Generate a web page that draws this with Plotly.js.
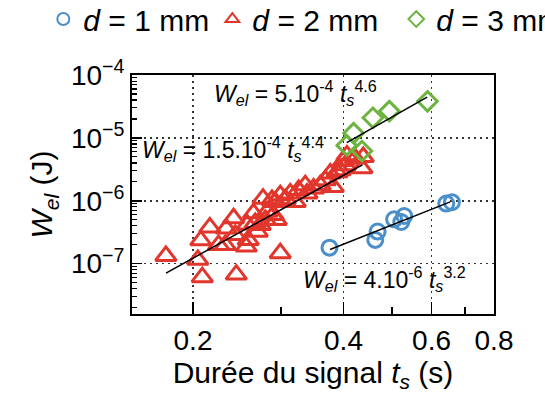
<!DOCTYPE html>
<html>
<head>
<meta charset="utf-8">
<script src="https://cdn.plot.ly/plotly-3.0.1.min.js"></script>
<style>html,body{margin:0;padding:0;background:#fff;}#chart{width:545px;height:397px;}</style>
</head>
<body>
<div id="chart"></div>
<script>
// d = 1 mm (blue circles)
const t1 = [0.375, 0.463, 0.468, 0.505, 0.529, 0.522, 0.642, 0.659];
const w1 = [1.80e-7, 2.39e-7, 3.24e-7, 5.08e-7, 5.73e-7, 4.6e-7, 9.03e-7, 9.5e-7];

// d = 2 mm (red triangles)
const t2 = [0.1765, 0.2045, 0.2087, 0.2441, 0.2073, 0.2161, 0.2250, 0.2320, 0.2331, 0.2411,
            0.2429, 0.2555, 0.2567, 0.2642, 0.2689, 0.2726, 0.2989, 0.2761, 0.2812, 0.2877,
            0.2895, 0.2935, 0.2790, 0.2989, 0.3059, 0.3130, 0.3203, 0.3252, 0.3354, 0.3381,
            0.3485, 0.3594, 0.3678, 0.3763, 0.3815, 0.3940, 0.4032, 0.4000, 0.4064, 0.4222,
            0.4381, 0.4355, 0.3882, 0.2663, 0.2579, 0.2921];
const w2 = [1.33e-7, 1.15e-7, 6.1e-8, 6.7e-8, 2.35e-7, 3.77e-7, 1.99e-7, 1.99e-7, 3.63e-7, 5.27e-7,
            2.87e-7, 1.87e-7, 4.2e-7, 6.32e-7, 3.23e-7, 4.13e-7, 1.47e-7, 1.08e-6, 6.7e-7, 1.03e-6,
            5.94e-7, 4.95e-7, 4.95e-7, 1.23e-6, 1.06e-6, 1.31e-6, 9.6e-7, 1.48e-6, 1.77e-6, 1.31e-6,
            1.57e-6, 1.77e-6, 2.13e-6, 2.71e-6, 1.66e-6, 3.06e-6, 3.67e-6, 4.3e-6, 5.28e-6, 4.69e-6,
            4.97e-6, 3.29e-6, 2.84e-6, 4.44e-7, 2.39e-7, 9.6e-7];

// d = 3 mm (green diamonds)
const t3 = [0.406, 0.419, 0.4355, 0.458, 0.494, 0.589];
const w3 = [7.6e-6, 1.19e-5, 6.18e-6, 2.09e-5, 2.67e-5, 3.82e-5];

// fit lines (end points)
const fit1_t = [0.376, 0.654];  const fit1_w = [1.68e-7, 9.6e-7];
const fit2_t = [0.1766, 0.4365]; const fit2_w = [7.1e-8, 3.74e-6];
const fit3_t = [0.406, 0.588];  const fit3_w = [8.43e-6, 4.46e-5];

const legendNames = ['<i>d</i> = 1 mm', '<i>d</i> = 2 mm', '<i>d</i> = 3 mm'];
const xTickVals = [0.2, 0.4, 0.6, 0.8];
const xTickText = ['0.2', '0.4', '0.6', '0.8'];
const xMinorVals = [0.3, 0.5, 0.7];
const yTickVals = [1e-7, 1e-6, 1e-5, 1e-4];
const yTickText = ['10<sup>\u22127</sup>', '10<sup>\u22126</sup>', '10<sup>\u22125</sup>', '10<sup>\u22124</sup>'];

const BLUE = '#4B8FCB', RED = '#E2362C', GREEN = '#6CB43F';
const FONT = 'Liberation Sans, Arial, Helvetica, sans-serif';

const yMinor = [];
for (let e = -8; e <= -5; e++) for (let m = 2; m <= 9; m++) yMinor.push(m * Math.pow(10, e));

const traces = [
  {x: t1, y: w1, name: legendNames[0], mode: 'markers', type: 'scatter', legend: 'legend',
   marker: {symbol: 'circle-open', size: 15, color: BLUE, line: {width: 3, color: BLUE}}},
  {x: t2, y: w2, name: legendNames[1], mode: 'markers', type: 'scatter', legend: 'legend2',
   marker: {symbol: 'triangle-up-open', size: 18, color: RED, line: {width: 3, color: RED}}},
  {x: t3, y: w3, name: legendNames[2], mode: 'markers', type: 'scatter', legend: 'legend3',
   marker: {symbol: 'diamond-open', size: 15, color: GREEN, line: {width: 3, color: GREEN}}},
  {x: fit1_t, y: fit1_w, mode: 'lines', showlegend: false, line: {color: '#000', width: 1.5}},
  {x: fit2_t, y: fit2_w, mode: 'lines', showlegend: false, line: {color: '#000', width: 1.5}},
  {x: fit3_t, y: fit3_w, mode: 'lines', showlegend: false, line: {color: '#000', width: 1.5}}
];

const legFont = {family: FONT, size: 30, color: '#000'};
const legBase = {orientation: 'h', xanchor: 'left', y: 1.234, yanchor: 'middle',
                 font: legFont, itemsizing: 'constant', bgcolor: 'rgba(0,0,0,0)'};
const annFont = {family: FONT, size: 23, color: '#000'};
const layout = {
  width: 545, height: 397,
  margin: {l: 132, r: 51, t: 75, b: 83, pad: 0, autoexpand: false},
  paper_bgcolor: '#fff', plot_bgcolor: '#fff',
  font: {family: FONT, color: '#000', size: 20},
  showlegend: true,
  legend: Object.assign({}, legBase, {x: -0.245}),
  legend2: Object.assign({}, legBase, {x: 0.222}),
  legend3: Object.assign({}, legBase, {x: 0.73}),
  xaxis: {
    type: 'log', range: [Math.log10(0.151), Math.log10(0.8)], automargin: false,
    tickmode: 'array', tickvals: xTickVals, ticktext: xTickText,
    ticks: 'inside', ticklen: 12, tickwidth: 1.5, tickcolor: '#000',
    tickfont: {family: FONT, size: 28}, ticklabelstandoff: 0,
    showline: true, linecolor: '#000', linewidth: 2, mirror: true,
    showgrid: true, gridcolor: '#333', griddash: '2px,4px', gridwidth: 1.5,
    zeroline: false,
    minor: {tickmode: 'array', tickvals: xMinorVals, ticks: 'inside', ticklen: 7, tickwidth: 1.5, tickcolor: '#000', showgrid: false},
    title: {text: 'Durée du signal <i>t</i><sub><i>s</i></sub> (s)', font: {family: FONT, size: 30}, standoff: 5}
  },
  yaxis: {
    type: 'log', range: [-7.8, -4.0], automargin: false,
    tickmode: 'array', tickvals: yTickVals, ticktext: yTickText,
    ticks: 'inside', ticklen: 10, tickwidth: 1.5, tickcolor: '#000',
    tickfont: {family: FONT, size: 28},
    showline: true, linecolor: '#000', linewidth: 2, mirror: true,
    showgrid: true, gridcolor: '#333', griddash: '2px,4px', gridwidth: 1.5,
    zeroline: false,
    minor: {tickmode: 'array', tickvals: yMinor, ticks: 'inside', ticklen: 5, tickwidth: 1.2, tickcolor: '#000', showgrid: false},
    title: {text: '<i>W</i><sub><i>el</i></sub> (J)', font: {family: FONT, size: 30}, standoff: 9}
  },
  annotations: [
    {xref: 'paper', yref: 'paper', x: 0.222, y: 0.925, xanchor: 'left', yanchor: 'middle', showarrow: false,
     text: '<i>W</i><sub><i>el</i></sub> = 5.10<sup>-4</sup> <i>t</i><sub><i>s</i></sub><sup>4.6</sup>', font: annFont},
    {xref: 'paper', yref: 'paper', x: 0.022, y: 0.69, xanchor: 'left', yanchor: 'middle', showarrow: false,
     text: '<i>W</i><sub><i>el</i></sub> = 1.5.10<sup>-4</sup> <i>t</i><sub><i>s</i></sub><sup>4.4</sup>', font: annFont},
    {xref: 'paper', yref: 'paper', x: 0.468, y: 0.147, xanchor: 'left', yanchor: 'middle', showarrow: false,
     text: '<i>W</i><sub><i>el</i></sub> = 4.10<sup>-6</sup> <i>t</i><sub><i>s</i></sub><sup>3.2</sup>', font: annFont}
  ]
};

Plotly.newPlot('chart', traces, layout, {staticPlot: true, displayModeBar: false});
</script>
</body>
</html>
